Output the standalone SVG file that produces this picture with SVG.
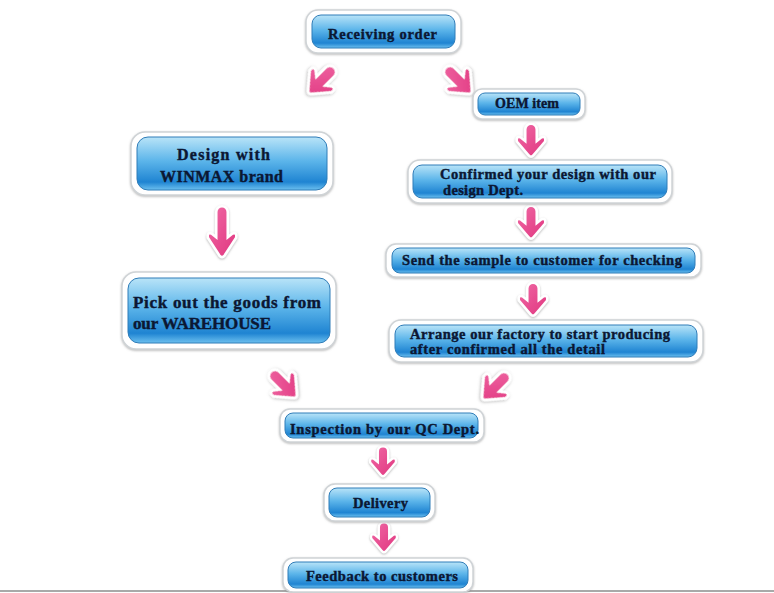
<svg xmlns="http://www.w3.org/2000/svg" width="774" height="593" viewBox="0 0 774 593">
<defs>
<linearGradient id="bg" x1="0" y1="0" x2="0" y2="1">
<stop offset="0" stop-color="#b9e4f8"/>
<stop offset="0.45" stop-color="#5cb5ea"/>
<stop offset="0.85" stop-color="#1f84d2"/>
<stop offset="1" stop-color="#6cc0ef"/>
</linearGradient>
<linearGradient id="pg" x1="0" y1="0" x2="1" y2="1">
<stop offset="0" stop-color="#f06aa5"/>
<stop offset="1" stop-color="#e0357f"/>
</linearGradient>
<filter id="sh" x="-30%" y="-30%" width="160%" height="160%">
<feDropShadow dx="0" dy="1" stdDeviation="1.2" flood-color="#888" flood-opacity="0.6"/>
</filter>
<path id="arr" d="M-5.5,-11 A5.5,5.5 0 0 1 5.5,-11 L5.5,0 L10,-3.5 Q14.5,-5 13.5,0.5 L2.5,13.5 Q0,16.5 -2.5,13.5 L-13.5,0.5 Q-14.5,-5 -10,-3.5 L-5.5,0 Z"/>
<path id="arrL" d="M-5.5,-20 A5.5,5.5 0 0 1 5.5,-20 L5.5,4 L10,0.5 Q14.5,-1 13.5,4.5 L2.5,21.5 Q0,24.5 -2.5,21.5 L-13.5,4.5 Q-14.5,-1 -10,0.5 L-5.5,4 Z"/>
</defs>
<style>
.o{fill:#fff;stroke:#cfd3d6;stroke-width:1.5;filter:url(#sh)}
.b{fill:url(#bg);stroke:#2f7cb8;stroke-width:1}
.t{font-family:"Liberation Serif",serif;font-weight:bold;fill:#0b1733;stroke:#0b1733;stroke-width:0.4}
.a{fill:url(#pg);stroke:#fff;stroke-width:2.5;filter:url(#sh)}
</style>
<rect width="774" height="593" fill="#fff"/>
<line x1="0" y1="591" x2="774" y2="591" stroke="#a9a9a9" stroke-width="2"/>

<g id="connectors">
<use href="#arr" class="a" transform="translate(321,81) rotate(45) scale(1.15)"/>
<use href="#arr" class="a" transform="translate(459,81) rotate(-45) scale(1.15)"/>
<use href="#arr" class="a" transform="translate(531,141) scale(1.05)"/>
<use href="#arrL" class="a" transform="translate(222,233) scale(1.05)"/>
<use href="#arr" class="a" transform="translate(531,223) scale(1.05)"/>
<use href="#arr" class="a" transform="translate(533,300) scale(1.05)"/>
<use href="#arr" class="a" transform="translate(284,385) rotate(-45) scale(1.15)"/>
<use href="#arr" class="a" transform="translate(495,387) rotate(45) scale(1.15)"/>
<use href="#arr" class="a" transform="translate(383,462) scale(0.95)"/>
<use href="#arr" class="a" transform="translate(384,538) scale(0.95)"/>
</g>

<g id="n-receiving">
<rect class="o" x="306" y="10" width="155" height="43" rx="12"/>
<rect class="b" x="312" y="15" width="143" height="33" rx="9"/>
<text class="t" x="328" y="39" font-size="14.5" textLength="109">Receiving  order</text>
</g>

<g id="n-oem">
<rect class="o" x="473" y="89" width="112" height="30" rx="9"/>
<rect class="b" x="478" y="93" width="102" height="22" rx="7"/>
<text class="t" x="495" y="108" font-size="14" textLength="64">OEM item</text>
</g>

<g id="n-design">
<rect class="o" x="131" y="132" width="202" height="63" rx="14"/>
<rect class="b" x="137" y="137" width="190" height="53" rx="11"/>
<text class="t" x="177" y="160" font-size="16" textLength="93">Design with</text>
<text class="t" x="160" y="182" font-size="16" textLength="123">WINMAX  brand</text>
</g>

<g id="n-confirmed">
<rect class="o" x="408" y="160" width="264" height="43" rx="12"/>
<rect class="b" x="413" y="165" width="254" height="33" rx="9"/>
<text class="t" x="440" y="179" font-size="14.5" textLength="216">Confirmed your design with our</text>
<text class="t" x="443" y="195" font-size="14.5" textLength="80">design Dept.</text>
</g>

<g id="n-send">
<rect class="o" x="386" y="244" width="315" height="33" rx="10"/>
<rect class="b" x="392" y="248" width="303" height="25" rx="8"/>
<text class="t" x="402" y="265" font-size="14.5" textLength="280">Send the sample to customer for checking</text>
</g>

<g id="n-pick">
<rect class="o" x="122" y="272" width="214" height="77" rx="14"/>
<rect class="b" x="128" y="278" width="202" height="65" rx="11"/>
<text class="t" x="133" y="308" font-size="17" textLength="188">Pick out the goods from</text>
<text class="t" x="133" y="329" font-size="17" textLength="138">our WAREHOUSE</text>
</g>

<g id="n-arrange">
<rect class="o" x="389" y="320" width="314" height="42" rx="12"/>
<rect class="b" x="395" y="325" width="302" height="32" rx="9"/>
<text class="t" x="410" y="339" font-size="14.5" textLength="260">Arrange our factory to start producing</text>
<text class="t" x="410" y="354" font-size="14.5" textLength="195">after confirmed all the detail</text>
</g>

<g id="n-inspection">
<rect class="o" x="280" y="409" width="204" height="33" rx="10"/>
<rect class="b" x="285" y="413" width="193" height="25" rx="8"/>
<text class="t" x="290" y="434" font-size="14.5" textLength="189">Inspection by our QC Dept.</text>
</g>

<g id="n-delivery">
<rect class="o" x="324" y="484" width="111" height="37" rx="11"/>
<rect class="b" x="329" y="488" width="101" height="29" rx="8"/>
<text class="t" x="353" y="508" font-size="14.5" textLength="55">Delivery</text>
</g>

<g id="n-feedback">
<rect class="o" x="283" y="558" width="190" height="34" rx="10"/>
<rect class="b" x="288" y="562" width="180" height="26" rx="8"/>
<text class="t" x="306" y="581" font-size="14.5" textLength="152">Feedback  to customers</text>
</g>
</svg>
